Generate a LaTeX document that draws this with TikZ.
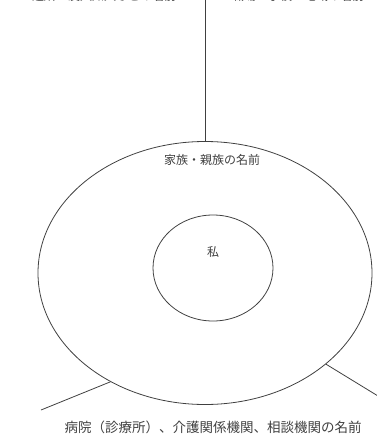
\documentclass[tikz,border=0pt]{standalone}
\usepackage{fontspec}
\usetikzlibrary{shapes.geometric}
\newfontfamily\jp{Noto Sans CJK JP}
\begin{document}
\begin{tikzpicture}[x=1pt,y=-1pt,
  ln/.style={draw=black!75,line width=0.8pt},
  lbl/.style={font=\jp\fontsize{12pt}{14pt}\selectfont,text=black!75,inner sep=0pt}]
\useasboundingbox (0,0) rectangle (376,447);
\node[ln,ellipse,minimum width=334pt,minimum height=263pt,inner sep=0pt] (outer) at (205,273) {};
\node[ln,ellipse,minimum width=120pt,minimum height=106pt,inner sep=0pt] (inner) at (213,268) {};
\node[lbl] (me) at (213,252) {私};
\node[lbl] (fam) at (212,160) {家族・親族の名前};
\node[lbl,font=\jp\fontsize{13.5pt}{15pt}\selectfont] (hosp) at (213,427) {病院（診療所）、介護関係機関、相談機関の名前};
\node[lbl] (nb) at (104,-4) {近所・友人知人などの名前};
\node[lbl] (work) at (298,-4) {職場・学校・地域の名前};
\coordinate (top) at (205,0);
\coordinate (bl) at (41,410);
\coordinate (br) at (378,396);
\draw[ln] (top) -- (outer.north);
\draw[ln] (outer.229) -- (bl);
\draw[ln] (outer.-37) -- (br);
\end{tikzpicture}
\end{document}
